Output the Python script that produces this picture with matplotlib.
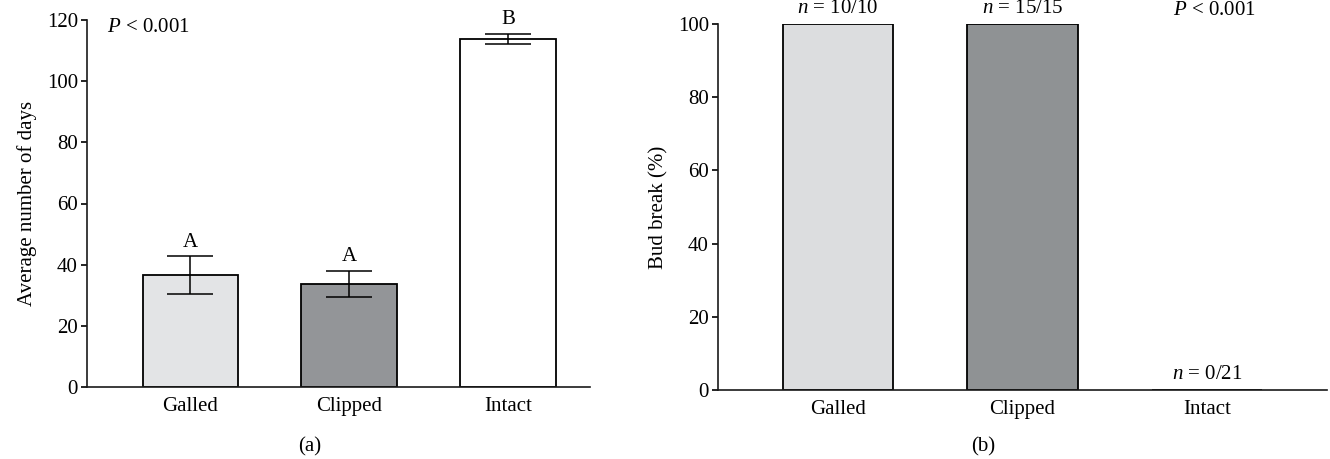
import matplotlib
matplotlib.use("Agg")
import matplotlib.pyplot as plt
import numpy as np

# ---- data ----
categories = ["Galled", "Clipped", "Intact"]
days_mean = [36.5, 33.6, 113.8]
days_err = [6.2, 4.3, 1.7]
days_letters = ["A", "A", "B"]
budbreak_pct = [100, 100, 0]
budbreak_n = ["10/10", "15/15", "0/21"]
days_yticks = [0, 20, 40, 60, 80, 100, 120]
bud_yticks = [0, 20, 40, 60, 80, 100]

colors_a = ["#e3e4e6", "#939598", "#ffffff"]
colors_b = ["#dcdddf", "#8f9294", "#ffffff"]

plt.rcParams["font.family"] = ["Liberation Serif", "DejaVu Serif"]
plt.rcParams["mathtext.fontset"] = "custom"
plt.rcParams["mathtext.rm"] = "Liberation Serif"
plt.rcParams["mathtext.it"] = "Liberation Serif:italic"

FS = 15
W, H = 1330, 459
fig = plt.figure(figsize=(W / 100, H / 100), dpi=100)

def px_axes(x0, x1, ytop, ybot):
    return fig.add_axes([x0 / W, (H - ybot) / H, (x1 - x0) / W, (ybot - ytop) / H])

ax1 = px_axes(87, 590, 20, 387)
ax2 = px_axes(718, 1327, 24, 390)

x = np.arange(len(categories))

def style(ax, yticks, xright):
    for s in ["top", "right"]:
        ax.spines[s].set_visible(False)
    for s in ["left", "bottom"]:
        ax.spines[s].set_linewidth(1.2)
        ax.spines[s].set_color("#1a1a1a")
        ax.spines[s].set_zorder(4)
    ax.set_xlim(-0.65, xright)
    ax.set_ylim(yticks[0], yticks[-1])
    ax.set_yticks(yticks)
    ax.set_xticks(x)
    ax.set_xticklabels(categories, fontsize=FS)
    ax.tick_params(axis="x", length=0, pad=7)
    ax.tick_params(axis="y", direction="out", length=4, width=1.2, pad=2.5, labelsize=FS)

# ---- panel (a) ----
ax1.bar(x, days_mean, width=0.6, color=colors_a, edgecolor="black", linewidth=1.3, zorder=2)
ax1.errorbar(x, days_mean, yerr=days_err, fmt="none", ecolor="black", elinewidth=1.1,
             capsize=16.5, capthick=1.1, zorder=3)
for xi, m, e, lab in zip(x, days_mean, days_err, days_letters):
    ax1.annotate(lab, (xi, m + e), xytext=(0, 7), textcoords="offset points",
                 ha="center", va="baseline", fontsize=FS)
style(ax1, days_yticks, 2.516)
ax1.set_ylabel("Average number of days", fontsize=FS, labelpad=7)
ax1.text(-0.525, 117.7, r"$P$ < 0.001", ha="left", va="center", fontsize=FS)

# ---- panel (b) ----
ax2.bar(x, budbreak_pct, width=0.6, color=colors_b, edgecolor="black", linewidth=1.3, zorder=2)
for xi, v, n in zip(x, budbreak_pct, budbreak_n):
    ax2.annotate(r"$n$ = " + n, (xi, v), xytext=(0, 11), textcoords="offset points",
                 ha="center", va="center", fontsize=FS, annotation_clip=False)
style(ax2, bud_yticks, 2.65)
ax2.set_ylabel("Bud break (%)", fontsize=FS, labelpad=7)
ax2.text(2.04, 103.6, r"$P$ < 0.001", ha="center", va="center", fontsize=FS, clip_on=False)

fig.text(310 / W, 1 - 447 / H, "(a)", ha="center", va="center", fontsize=FS)
fig.text(983 / W, 1 - 447 / H, "(b)", ha="center", va="center", fontsize=FS)

fig.savefig("out.png", dpi=100)
